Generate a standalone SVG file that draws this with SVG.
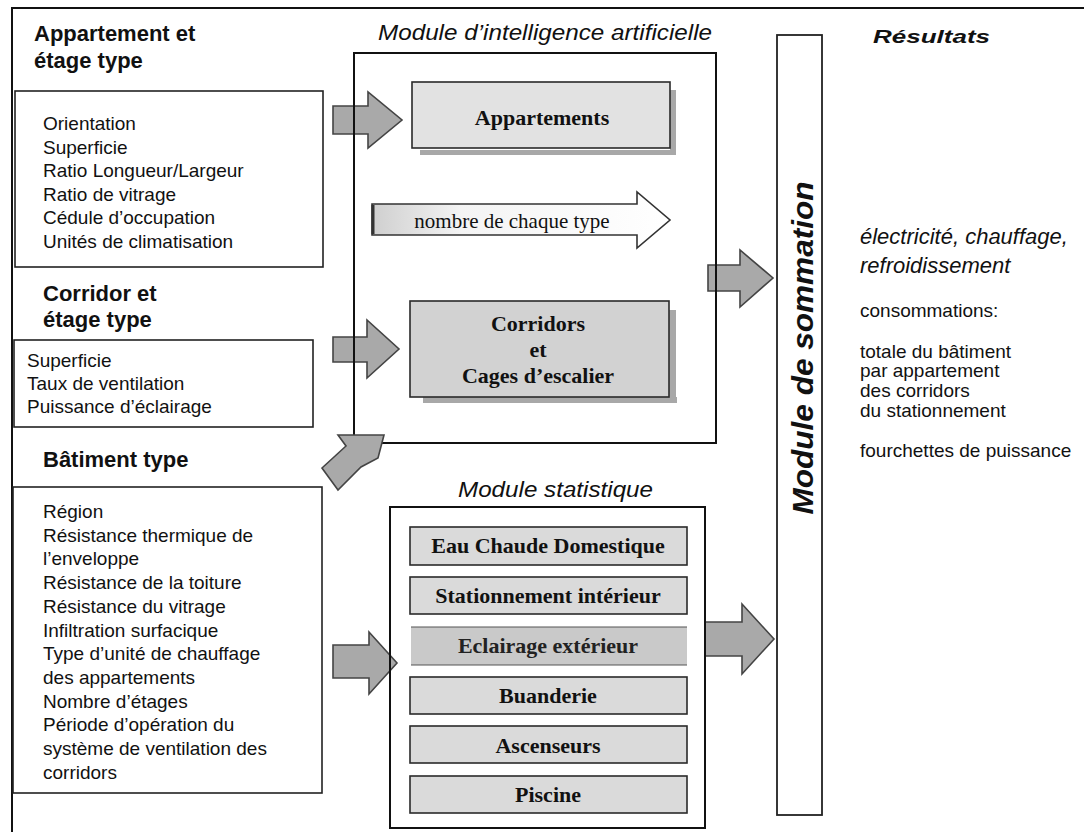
<svg xmlns="http://www.w3.org/2000/svg" width="1084" height="832" viewBox="0 0 1084 832">
  <defs>
    <style>
      .frame { fill: none; stroke: #111; stroke-width: 2; }
      .inbox { fill: #fff; stroke: #222; stroke-width: 1.6; }
      .head { font-family: "Liberation Sans", Arial, sans-serif; font-weight: bold; font-size: 22px; fill: #111; }
      .item { font-family: "Liberation Sans", Arial, sans-serif; font-size: 19px; fill: #111; }
      .title { font-family: "Liberation Sans", Arial, sans-serif; font-style: italic; font-size: 22px; fill: #111; }
      .res { font-family: "Liberation Sans", Arial, sans-serif; font-size: 19px; fill: #111; }
      .energy { font-family: "Liberation Sans", Arial, sans-serif; font-style: italic; font-size: 22px; fill: #111; }
      .serif { font-family: "Liberation Serif", "Times New Roman", serif; font-weight: bold; font-size: 22px; fill: #111; text-anchor: middle; }
      .block { fill: #dadada; stroke: #2a2a2a; stroke-width: 1.6; }
      .shadow { fill: #a8a8a8; }
      .arrow { fill: #a9a9a9; stroke: #444; stroke-width: 1.6; stroke-linejoin: miter; }
    </style>
    <linearGradient id="countFill" x1="0" y1="0" x2="1" y2="0">
      <stop offset="0" stop-color="#cfcfcf"/>
      <stop offset="0.3" stop-color="#f4f4f4"/>
      <stop offset="1" stop-color="#ffffff"/>
    </linearGradient>
  </defs>

  <rect width="1084" height="832" fill="#fff"/>

  <!-- outer frame: top and left edges -->
  <path class="frame" d="M12,832 V8 H1084"/>

  <!-- block arrows between modules -->
  <g id="connectors">
    <polygon class="arrow" points="333,106 368,106 368,92 402,120 368,148 368,134 333,134"/>
    <polygon class="arrow" points="333,337 367,337 367,320 399,349 367,378 367,362 333,362"/>
    <polygon class="arrow" points="333,645 369,645 369,632 397,663 369,694 369,678 333,678"/>
    <polygon class="arrow" points="708,265 740,265 740,250 773,278 740,307 740,291 708,291"/>
    <polygon class="arrow" points="705,622 742,622 742,604 774,639 742,674 742,656 705,656"/>
  </g>

  <!-- input: apartment and typical floor -->
  <g id="input-apartment">
    <text class="head" x="34" y="41">Appartement et</text>
    <text class="head" x="34" y="68">étage type</text>
    <rect class="inbox" x="15" y="91" width="308" height="176"/>
    <text class="item" x="43" y="130">Orientation</text>
    <text class="item" x="43" y="153.6">Superficie</text>
    <text class="item" x="43" y="177.2">Ratio Longueur/Largeur</text>
    <text class="item" x="43" y="200.8">Ratio de vitrage</text>
    <text class="item" x="43" y="224.4">Cédule d’occupation</text>
    <text class="item" x="43" y="248">Unités de climatisation</text>
  </g>

  <!-- input: corridor and typical floor -->
  <g id="input-corridor">
    <text class="head" x="43" y="301">Corridor et</text>
    <text class="head" x="43" y="327">étage type</text>
    <rect class="inbox" x="14" y="340" width="299" height="87"/>
    <text class="item" x="27" y="367">Superficie</text>
    <text class="item" x="27" y="390">Taux de ventilation</text>
    <text class="item" x="27" y="413">Puissance d’éclairage</text>
  </g>

  <!-- input: typical building -->
  <g id="input-building">
    <text class="head" x="43" y="467">Bâtiment type</text>
    <rect class="inbox" x="13" y="487" width="309" height="306"/>
    <text class="item" x="43" y="518">Région</text>
    <text class="item" x="43" y="541.7">Résistance thermique de</text>
    <text class="item" x="43" y="565.4">l’enveloppe</text>
    <text class="item" x="43" y="589.1">Résistance de la toiture</text>
    <text class="item" x="43" y="612.8">Résistance du vitrage</text>
    <text class="item" x="43" y="636.5">Infiltration surfacique</text>
    <text class="item" x="43" y="660.2">Type d’unité de chauffage</text>
    <text class="item" x="43" y="683.9">des appartements</text>
    <text class="item" x="43" y="707.6">Nombre d’étages</text>
    <text class="item" x="43" y="731.3">Période d’opération du</text>
    <text class="item" x="43" y="755">système de ventilation des</text>
    <text class="item" x="43" y="778.7">corridors</text>
  </g>

  <!-- artificial intelligence module -->
  <g id="module-ai">
    <text class="title" x="378" y="40" textLength="334" lengthAdjust="spacingAndGlyphs">Module d’intelligence artificielle</text>
    <path class="frame" d="M354,437 V53 H716 V443 H382"/>
    <rect class="shadow" x="670" y="90" width="6" height="64"/>
    <rect class="shadow" x="420" y="150" width="256" height="5"/>
    <rect class="block" x="412" y="82" width="258" height="66" style="fill:#e2e2e2"/>
    <text class="serif" x="542" y="125">Appartements</text>

    <polygon points="372,204 637,204 637,192 670,220 637,248 637,235 372,235" fill="url(#countFill)" stroke="#333" stroke-width="1.6"/>
    <line x1="373" y1="205" x2="373" y2="234" stroke="#333" stroke-width="3"/>
    <text x="512" y="228" font-family="Liberation Serif, Times New Roman, serif" font-size="21" fill="#111" text-anchor="middle">nombre de chaque type</text>

    <rect class="shadow" x="669" y="310" width="7" height="92"/>
    <rect class="shadow" x="423" y="397" width="254" height="6"/>
    <rect class="block" x="410" y="301" width="259" height="96" style="fill:#d2d2d2"/>
    <text class="serif" x="538" y="331">Corridors</text>
    <text class="serif" x="538" y="357">et</text>
    <text class="serif" x="538" y="383">Cages d’escalier</text>
  </g>

  <!-- arrow from building inputs into the AI module -->
  <g id="connector-building-ai">
    <polygon class="arrow" points="322,468 346,446 338,435 384,435 378,458 361,467 338,490"/>
  </g>

  <!-- statistical module -->
  <g id="module-stat">
    <text class="title" x="458" y="497" textLength="195" lengthAdjust="spacingAndGlyphs">Module statistique</text>
    <rect class="frame" x="390" y="507" width="315" height="321"/>
    <rect class="block" x="410" y="527" width="277" height="38"/>
    <text class="serif" x="548" y="553">Eau Chaude Domestique</text>
    <rect class="block" x="410" y="577" width="277" height="37"/>
    <text class="serif" x="548" y="603">Stationnement intérieur</text>
    <rect x="411" y="627" width="276" height="38" fill="#c9c9c9"/>
    <line x1="411" y1="627" x2="687" y2="627" stroke="#555" stroke-width="1.2"/>
    <line x1="411" y1="665" x2="687" y2="665" stroke="#555" stroke-width="1.2"/>
    <text class="serif" x="548" y="653" style="fill:#222">Eclairage extérieur</text>
    <rect class="block" x="410" y="677" width="277" height="37"/>
    <text class="serif" x="548" y="703">Buanderie</text>
    <rect class="block" x="410" y="726" width="277" height="37"/>
    <text class="serif" x="548" y="753">Ascenseurs</text>
    <rect class="block" x="410" y="776" width="277" height="37"/>
    <text class="serif" x="548" y="802">Piscine</text>
  </g>

  <!-- summation module -->
  <g id="module-sum">
    <rect x="777" y="35" width="45" height="780" fill="#fff" stroke="#222" stroke-width="1.8"/>
    <text transform="translate(813,348) rotate(-90)" x="0" y="0" text-anchor="middle" font-family="Liberation Sans, Arial, sans-serif" font-weight="bold" font-style="italic" font-size="30" fill="#111" textLength="333" lengthAdjust="spacingAndGlyphs">Module de sommation</text>
  </g>

  <!-- results -->
  <g id="results">
    <text x="873" y="43" font-family="Liberation Sans, Arial, sans-serif" font-weight="bold" font-style="italic" font-size="19" fill="#111" textLength="117" lengthAdjust="spacingAndGlyphs">Résultats</text>
    <text class="energy" x="860" y="244">électricité, chauffage,</text>
    <text class="energy" x="860" y="273">refroidissement</text>
    <text class="res" x="860" y="317">consommations:</text>
    <text class="res" x="860" y="358">totale du bâtiment</text>
    <text class="res" x="860" y="377">par appartement</text>
    <text class="res" x="860" y="397">des corridors</text>
    <text class="res" x="860" y="417">du stationnement</text>
    <text class="res" x="860" y="457">fourchettes de puissance</text>
  </g>
</svg>
